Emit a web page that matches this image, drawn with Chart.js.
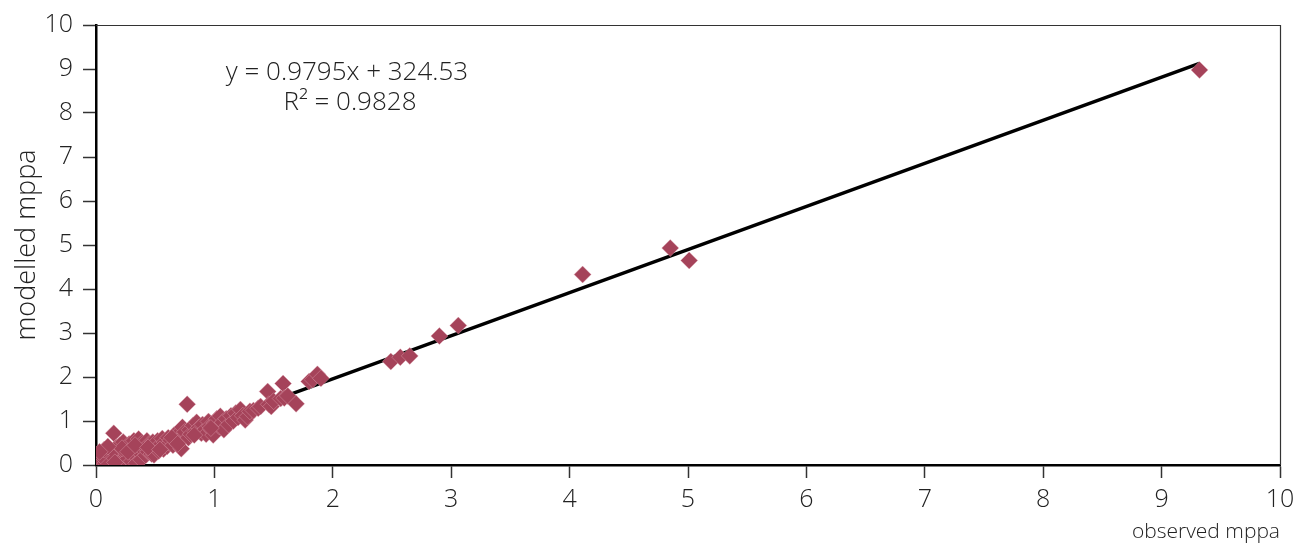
<!DOCTYPE html>
<html>
<head>
<meta charset="utf-8">
<script src="https://cdn.jsdelivr.net/npm/chart.js@4.4.1/dist/chart.umd.min.js"></script>
<style>
  html, body { margin: 0; padding: 0; background: #fff; }
  #wrap { width: 1305px; height: 546px; position: relative; }
</style>
</head>
<body>
<div id="wrap"><canvas id="c" width="1305" height="546"></canvas></div>
<script>
// observed mppa (x) and modelled mppa (y)
const observedX = [
  0.00,0.01,0.02,0.03,0.04,0.05,0.06,0.07,0.08,0.09,0.10,0.11,0.12,0.13,0.14,0.15,0.16,0.17,0.18,0.19,
  0.20,0.21,0.22,0.23,0.24,0.25,0.26,0.27,0.28,0.29,0.30,0.31,0.32,0.33,0.34,0.35,0.36,0.37,0.38,0.39,
  0.40,0.41,0.42,0.43,0.44,0.45,0.46,0.47,0.48,0.49,0.50,0.52,0.53,0.55,0.56,0.57,0.58,0.60,0.61,0.62,
  0.63,0.65,0.66,0.67,0.68,0.70,0.71,0.72,0.73,0.74,0.75,0.77,0.78,0.79,0.80,0.82,0.84,0.85,0.87,0.89,
  0.90,0.92,0.93,0.95,0.96,0.98,0.99,1.00,1.02,1.04,1.05,1.07,1.08,1.10,1.12,1.14,1.16,1.18,1.20,1.22,
  1.24,1.26,1.28,1.30,1.33,1.37,1.39,1.45,1.46,1.48,1.50,1.56,1.58,1.59,1.62,1.69,1.80,1.83,1.87,1.90,
  2.49,2.57,2.65,2.90,3.06,4.11,4.85,5.01,9.32,
  0.02,0.05,0.08,0.12,0.16,0.22,0.27,0.33,0.44,0.54,0.64,0.69,0.83,0.97,
  0.04,0.07,0.10,0.03
];
const modelledY = [
  0.02,0.08,0.00,0.12,0.05,0.18,0.02,0.25,0.10,0.30,0.04,0.20,0.35,0.08,0.28,0.72,0.15,0.40,0.03,0.22,
  0.45,0.12,0.32,0.52,0.05,0.25,0.40,0.15,0.48,0.30,0.08,0.38,0.55,0.20,0.04,0.45,0.59,0.28,0.12,0.50,
  0.34,0.42,0.22,0.55,0.30,0.48,0.38,0.25,0.52,0.23,0.42,0.55,0.32,0.48,0.60,0.36,0.52,0.42,0.62,0.50,
  0.56,0.45,0.68,0.58,0.52,0.72,0.60,0.37,0.86,0.66,0.75,1.38,0.62,0.80,0.70,0.90,0.76,0.97,0.85,0.72,
  0.92,0.80,0.70,0.99,0.88,0.78,0.68,0.95,1.05,0.88,1.11,0.97,0.80,1.05,0.92,1.12,1.00,1.18,1.08,1.26,
  1.12,1.02,1.10,1.22,1.24,1.29,1.33,1.67,1.38,1.33,1.45,1.51,1.85,1.52,1.57,1.39,1.90,1.94,2.06,1.97,
  2.35,2.45,2.48,2.93,3.17,4.33,4.93,4.65,8.98,
  0.15,0.28,0.04,0.25,0.06,0.38,0.30,0.45,0.40,0.35,0.62,0.48,0.68,0.84,
  0.22,0.35,0.42,0.30
];
// linear trendline endpoints (y = 0.9795x + 324.53 in passengers)
const trendX = [0.01, 9.32];
const trendY = [0.0101, 9.129];
const xTicks = [0,1,2,3,4,5,6,7,8,9,10];
const yTicks = [0,1,2,3,4,5,6,7,8,9,10];
const equationText = 'y = 0.9795x + 324.53';
const r2Text = 'R\u00B2 = 0.9828';
const xTitle = 'observed mppa';
const yTitle = 'modelled mppa';

const FONT = '"Open Sans", Roboto, "Liberation Sans", Arial, sans-serif';
const TXT = '#222';

const points = observedX.map((x, i) => ({x: x, y: modelledY[i]}));
const trend = trendX.map((x, i) => ({x: x, y: trendY[i]}));

const framePlugin = {
  id: 'frame',
  afterDraw(chart) {
    const {ctx, chartArea: a} = chart;
    ctx.save();
    ctx.strokeStyle = '#333';
    ctx.lineWidth = 1.2;
    ctx.beginPath();
    ctx.moveTo(a.left, a.top + 0.5);
    ctx.lineTo(a.right + 0.5, a.top + 0.5);
    ctx.lineTo(a.right + 0.5, a.bottom);
    ctx.stroke();
    ctx.fillStyle = TXT;
    ctx.font = '300 26px ' + FONT;
    ctx.textAlign = 'center';
    ctx.textBaseline = 'middle';
    ctx.fillText(equationText, 347, 73);
    ctx.fillText(r2Text, 350, 103);
    ctx.restore();
  }
};

new Chart(document.getElementById('c'), {
  type: 'scatter',
  data: {
    datasets: [
      {
        data: points,
        pointStyle: 'rectRot',
        pointRadius: 8.5,
        pointHoverRadius: 8.5,
        backgroundColor: '#a5435a',
        borderColor: 'rgba(230,170,185,0.55)',
        borderWidth: 0.7,
        order: 0
      },
      {
        type: 'line',
        data: trend,
        showLine: true,
        pointRadius: 0,
        borderColor: '#000',
        borderWidth: 3.5,
        fill: false,
        order: 1
      }
    ]
  },
  options: {
    responsive: false,
    animation: false,
    events: [],
    layout: { padding: { top: 21, right: 25, left: 0, bottom: 0 } },
    plugins: { legend: { display: false }, tooltip: { enabled: false } },
    scales: {
      x: {
        type: 'linear',
        min: 0, max: 10,
        afterFit: s => { s.height = 81; },
        afterBuildTicks: s => { s.ticks = xTicks.map(v => ({value: v})); },
        grid: { drawOnChartArea: false, drawTicks: true, tickLength: 13, tickWidth: 1.5, tickColor: '#333' },
        border: { display: true, color: '#000', width: 2.5 },
        ticks: { color: TXT, padding: 7, maxRotation: 0, font: { family: FONT, size: 25, weight: '300' } },
        title: { display: true, text: xTitle, align: 'end', color: TXT,
                 font: { family: FONT, size: 21, weight: '300' }, padding: { top: 0, bottom: 1 } }
      },
      y: {
        type: 'linear',
        min: 0, max: 10,
        afterFit: s => { s.width = 96; },
        afterBuildTicks: s => { s.ticks = yTicks.map(v => ({value: v})); },
        grid: { drawOnChartArea: false, drawTicks: true, tickLength: 13, tickWidth: 1.5, tickColor: '#333' },
        border: { display: true, color: '#000', width: 2.5 },
        ticks: { color: TXT, padding: 10, font: { family: FONT, size: 25, weight: '300' } },
        title: { display: true, text: yTitle, color: TXT,
                 font: { family: FONT, size: 27, weight: '300' }, padding: { top: 11, bottom: 0 } }
      }
    }
  },
  plugins: [framePlugin]
});
</script>
</body>
</html>
